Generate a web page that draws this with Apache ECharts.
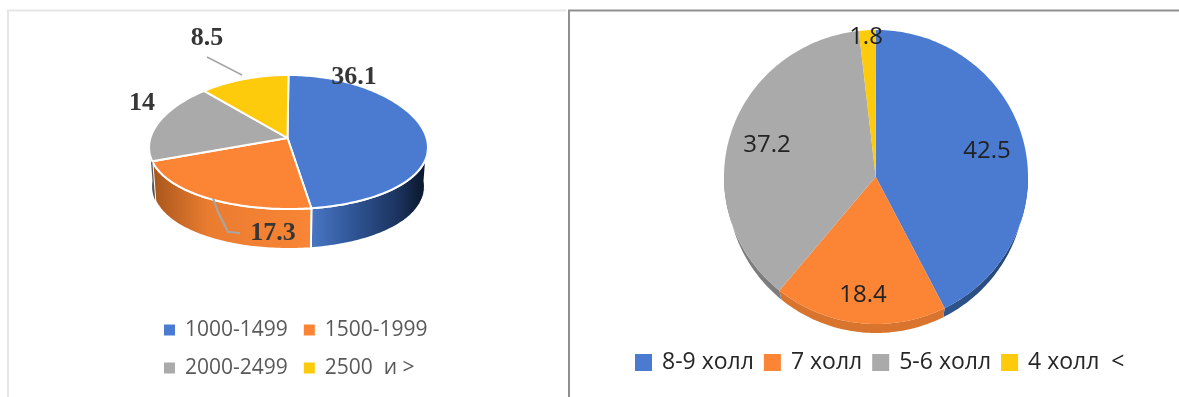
<!DOCTYPE html>
<html><head><meta charset="utf-8">
<style>html,body{margin:0;padding:0;background:#fff}#c{width:1179px;height:397px;filter:blur(0.5px)}</style>
<script src="https://cdn.jsdelivr.net/npm/echarts@6/dist/echarts.min.js"></script>
</head><body><div id="c"></div>
<script>
const leftCategories = ['1000-1499', '1500-1999', '2000-2499', '2500  и >'];
const leftValues = [36.1, 17.3, 14, 8.5];
const rightCategories = ['8-9 холл', '7 холл', '5-6 холл', '4 холл  <'];
const rightValues = [42.5, 18.4, 37.2, 1.8];

const sliceColors = ['#4a7bd1', '#fb8535', '#aaaaaa', '#fdca0c'];
const leftLayout = {
  cx: 288.5, cy: 142, rx: 139, ry: 67, persp: 0.08, apex: [287.5, 138],
  bx: 288.5, by: 181, brx: 136, bry: 68, border: 2, borderColor: '#ffffff', sideBorders: [2, 2, 0, 0],
  sides: [
    [[0, '#4a76c4'], [0.3, '#335b9f'], [0.75, '#1b325c'], [1, '#081222']],
    [[0, '#a6551c'], [0.35, '#ea7c30'], [1, '#f98535']],
    [[0, '#55555a'], [1, '#55555a']],
    [[0, '#bb9608'], [1, '#bb9608']]
  ],
  labelFont: 'bold 26px "Liberation Serif"', labelColor: '#363636',
  labels: [[354, 77], [273, 233], [142, 103], [207, 38]]
};
const rightLayout = {
  cx: 876, cy: 177, rx: 152, ry: 147, persp: 0, apex: [875.7, 176.7],
  bx: 876, by: 186, brx: 149, bry: 147, border: 0, borderColor: 'transparent', sideBorders: [0, 0, 0, 0],
  sides: [
    [[0, '#2f558f'], [1, '#24426f']],
    [[0, '#d8742d'], [1, '#d8742d']],
    [[0, '#7d7d7d'], [1, '#7d7d7d']],
    [[0, '#bb9608'], [1, '#bb9608']]
  ],
  labelFont: '24px "Open Sans"', labelColor: '#222222',
  labels: [[987, 151], [863, 295], [767, 145], [866, 37]]
};

function rim(cx, cy, rx, ry, a0, a1, k) {
  const pts = [], n = Math.max(2, Math.ceil(Math.abs(a1 - a0) / 0.02));
  for (let i = 0; i <= n; i++) {
    const a = a0 + (a1 - a0) * i / n;
    pts.push([cx + rx * Math.sin(a) * (1 - k * Math.cos(a)), cy - ry * Math.cos(a)]);
  }
  return pts;
}

function sliceSeries(names, values, L) {
  const total = values.reduce((s, v) => s + v, 0);
  let acc = 0;
  const out = names.map((name, i) => {
    const a0 = acc / total * 2 * Math.PI;
    acc += values[i];
    const a1 = acc / total * 2 * Math.PI;
    return {
      type: 'custom', name, coordinateSystem: 'none', silent: true, animation: false,
      z: 2, itemStyle: { color: sliceColors[i] }, data: [values[i]],
      renderItem() {
        const children = [];
        const s0 = Math.max(a0, Math.PI / 2), s1 = Math.min(a1, 3 * Math.PI / 2);
        if (s1 > s0) {
          const pts = rim(L.cx, L.cy, L.rx, L.ry, s0, s1, L.persp)
            .concat(rim(L.bx, L.by, L.brx, L.bry, s1, s0, L.persp));
          children.push({
            type: 'polygon', shape: { points: pts },
            style: {
              fill: new echarts.graphic.LinearGradient(0, 0, 1, 0,
                L.sides[i].map(s => ({ offset: s[0], color: s[1] }))),
              stroke: L.borderColor, lineWidth: L.sideBorders[i]
            }
          });
        }
        const top = [L.apex].concat(rim(L.cx, L.cy, L.rx, L.ry, a0, a1, L.persp));
        children.push({
          type: 'polygon', shape: { points: top },
          style: { fill: sliceColors[i], stroke: L.borderColor, lineWidth: L.border, lineJoin: 'round' }
        });
        return { type: 'group', children };
      }
    };
  });
  return out;
}

function labelSeries(values, L) {
  return {
    type: 'custom', coordinateSystem: 'none', silent: true, animation: false, z: 5,
    data: values,
    renderItem(params, api) {
      const p = L.labels[params.dataIndex];
      return {
        type: 'text',
        style: {
          text: String(api.value(0)), x: p[0], y: p[1], font: L.labelFont,
          fill: L.labelColor, align: 'center', verticalAlign: 'middle'
        }
      };
    }
  };
}

const frame = '#e6e6e6', divider = '#8f8f8f', leader = '#a6a6a6';
const option = {
  backgroundColor: '#ffffff',
  animation: false,
  legend: [
    {
      data: leftCategories, selectedMode: false, orient: 'horizontal',
      left: 159, top: 314, width: 300, itemWidth: 11, itemHeight: 11, itemGap: 16,
      icon: 'rect', textStyle: { fontFamily: 'Open Sans', fontSize: 21, color: '#595959', padding: [0, 0, 0, 5], lineHeight: 22, height: 22 }
    },
    {
      data: rightCategories, selectedMode: false, orient: 'horizontal',
      left: 630, top: 346, itemWidth: 17, itemHeight: 17, itemGap: 10,
      icon: 'rect', textStyle: { fontFamily: 'Open Sans', fontSize: 23, color: '#262626', padding: [0, 0, 0, 5] }
    }
  ],
  graphic: [
    { type: 'polyline', z: 1, shape: { points: [[8, 397], [8, 10.5], [566, 10.5]] }, style: { fill: 'none', stroke: frame, lineWidth: 2 } },
    { type: 'polyline', z: 1, shape: { points: [[569, 397], [569, 10.5], [1179, 10.5]] }, style: { fill: 'none', stroke: divider, lineWidth: 2 } },
    { type: 'polyline', z: 10, shape: { points: [[207, 57], [242, 75]] }, style: { fill: 'none', stroke: leader, lineWidth: 1.5 } },
    { type: 'polyline', z: 10, shape: { points: [[213, 198], [218, 212], [228, 232], [240, 233]] }, style: { fill: 'none', stroke: leader, lineWidth: 2 } }
  ],
  series: [
    ...sliceSeries(leftCategories, leftValues, leftLayout),
    ...sliceSeries(rightCategories, rightValues, rightLayout),
    labelSeries(leftValues, leftLayout),
    labelSeries(rightValues, rightLayout)
  ]
};
echarts.init(document.getElementById('c'), null, { renderer: 'canvas' }).setOption(option);
</script></body></html>
